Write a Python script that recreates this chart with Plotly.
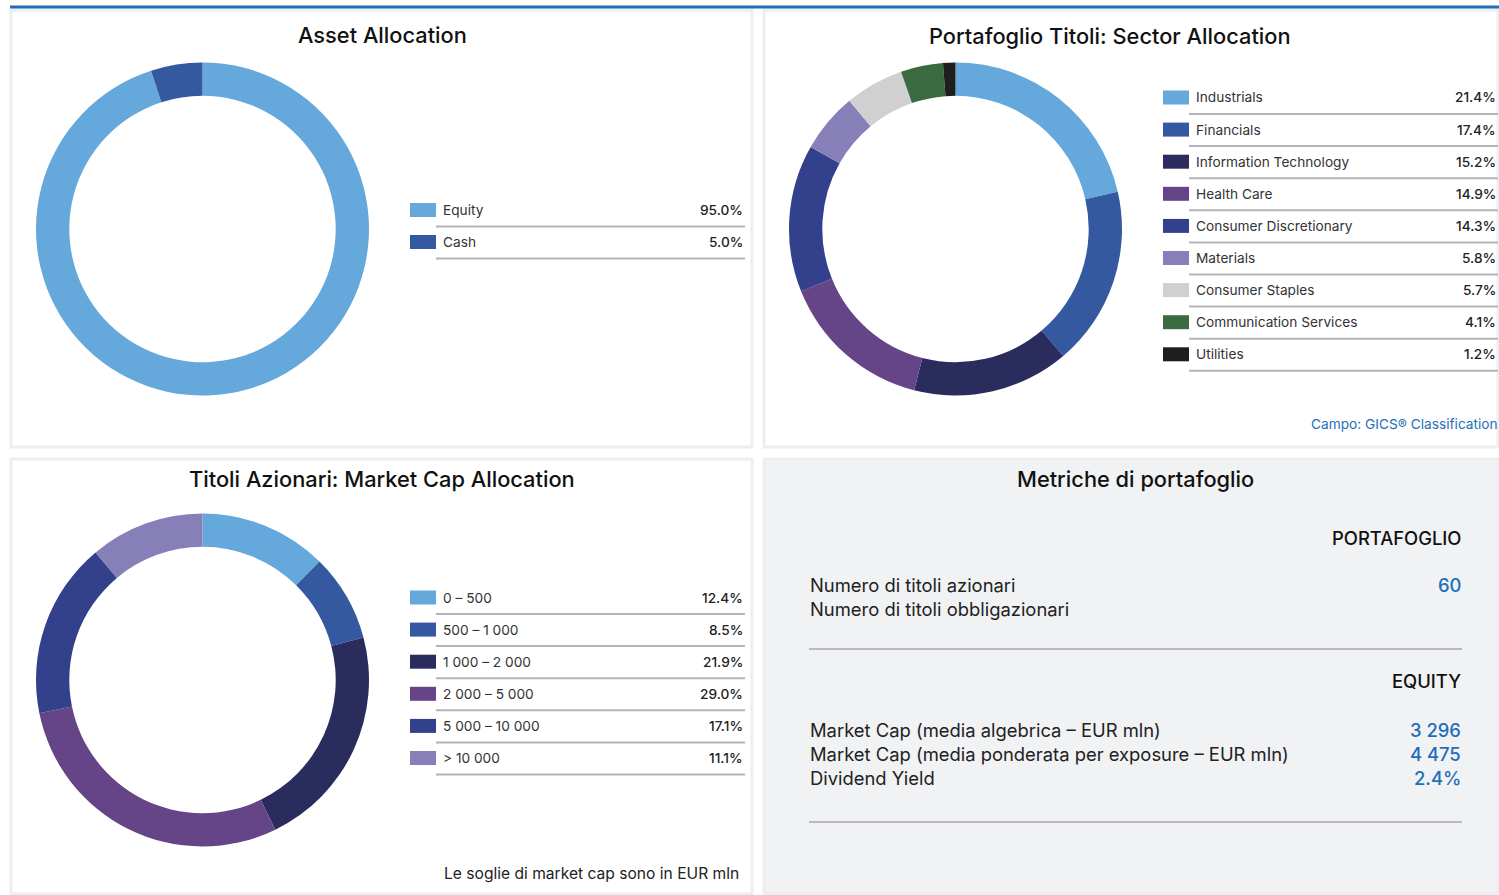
import plotly.graph_objects as go

W, H = 1499, 895

# ---------------- data ----------------
asset_labels = ["Equity", "Cash"]
asset_values = [95.0, 5.0]
asset_colors = ["#65A8DC", "#3459A0"]

sector_labels = ["Industrials", "Financials", "Information Technology", "Health Care",
                 "Consumer Discretionary", "Materials", "Consumer Staples",
                 "Communication Services", "Utilities"]
sector_values = [21.4, 17.4, 15.2, 14.9, 14.3, 5.8, 5.7, 4.1, 1.2]
sector_colors = ["#65A8DC", "#3459A0", "#2B2C5E", "#654487", "#33418C",
                 "#8780B8", "#D0D0D0", "#3A6B40", "#1E1E1E"]

mcap_labels = ["0 – 500", "500 – 1 000", "1 000 – 2 000", "2 000 – 5 000",
               "5 000 – 10 000", "> 10 000"]
mcap_values = [12.4, 8.5, 21.9, 29.0, 17.1, 11.1]
mcap_colors = ["#65A8DC", "#3459A0", "#2B2C5E", "#654487", "#33418C", "#8780B8"]

metric_labels_1 = ["Numero di titoli azionari", "Numero di titoli obbligazionari"]
metric_values_1 = ["60", ""]
metric_labels_2 = ["Market Cap (media algebrica – EUR mln)",
                   "Market Cap (media ponderata per exposure – EUR mln)",
                   "Dividend Yield"]
metric_values_2 = ["3 296", "4 475", "2.4%"]

FONT = "Inter"
BLUE = "#1F6FB8"
TXT = "#222222"


def px(x):
    return x / W


def py(y):
    return 1 - y / H


fig = go.Figure()


def donut(labels, values, colors, cx, cy, r):
    fig.add_trace(go.Pie(
        labels=labels, values=values, sort=False, direction="clockwise", rotation=0,
        hole=0.80, marker=dict(colors=colors, line=dict(width=0)),
        textinfo="none", hoverinfo="label+percent", showlegend=False,
        domain=dict(x=[px(cx - r), px(cx + r)], y=[py(cy + r), py(cy - r)]),
    ))


donut(asset_labels, asset_values, asset_colors, 202.5, 229, 166.5)
donut(sector_labels, sector_values, sector_colors, 955.5, 229, 166.5)
donut(mcap_labels, mcap_values, mcap_colors, 202.5, 680, 166.5)

shapes = []
annotations = []

# top blue line
shapes.append(dict(type="line", xref="paper", yref="paper", x0=px(10), x1=px(1499),
                   y0=py(7), y1=py(7), line=dict(color=BLUE, width=3)))

# panels
panels = [(11, 10, 752, 447, "white"), (764, 10, 1498, 447, "white"),
          (11, 459, 752, 894, "white"), (764, 459, 1498, 894, "#F1F2F4")]
for x0, y0, x1, y1, fill in panels:
    shapes.append(dict(type="rect", xref="paper", yref="paper", layer="below",
                       x0=px(x0), x1=px(x1), y0=py(y1), y1=py(y0),
                       fillcolor=fill, line=dict(color="#ECEEF1", width=3)))


def title(text, x, y):
    annotations.append(dict(text=text, x=px(x), y=py(y), xref="paper", yref="paper",
                            showarrow=False, xanchor="center", yanchor="middle",
                            font=dict(family=FONT, size=21.8, color="#111111", weight=500)))


title("Asset Allocation", 382, 35)
title("Portafoglio Titoli: Sector Allocation", 1110, 36)
title("Titoli Azionari: Market Cap Allocation", 382, 479)
title("Metriche di portafoglio", 1135, 479)

LSIZE = 13.7


def legend(labels, values, colors, sx, y0, step, line_end, val_x):
    for i, (lab, val, col) in enumerate(zip(labels, values, colors)):
        yc = y0 + i * step
        shapes.append(dict(type="rect", xref="paper", yref="paper",
                           x0=px(sx), x1=px(sx + 26), y0=py(yc + 7), y1=py(yc - 7),
                           fillcolor=col, line=dict(width=0)))
        shapes.append(dict(type="line", xref="paper", yref="paper",
                           x0=px(sx + 26), x1=px(line_end), y0=py(yc + 16.5), y1=py(yc + 16.5),
                           line=dict(color="#B4B4B8", width=2)))
        annotations.append(dict(text=lab, x=px(sx + 31), y=py(yc), xref="paper", yref="paper",
                                showarrow=False, xanchor="left", yanchor="middle",
                                font=dict(family=FONT, size=LSIZE, color="#333333")))
        annotations.append(dict(text=f"{val:.1f}%", x=px(val_x), y=py(yc), xref="paper",
                                yref="paper", showarrow=False, xanchor="right", yanchor="middle",
                                font=dict(family=FONT, size=LSIZE, color="#222222", weight=500)))


legend(asset_labels, asset_values, asset_colors, 410, 210, 32, 745, 745)
legend(sector_labels, sector_values, sector_colors, 1163, 97.5, 32.1, 1498, 1498)
legend(mcap_labels, mcap_values, mcap_colors, 410, 597.5, 32.1, 745, 745)

annotations.append(dict(text="Campo: GICS® Classification", x=px(1500), y=py(424),
                        xref="paper", yref="paper", showarrow=False, xanchor="right",
                        yanchor="middle", font=dict(family=FONT, size=13.7, color=BLUE)))
annotations.append(dict(text="Le soglie di market cap sono in EUR mln", x=px(741), y=py(873),
                        xref="paper", yref="paper", showarrow=False, xanchor="right",
                        yanchor="middle", font=dict(family=FONT, size=15.6, color=TXT)))


def text(t, x, y, anchor, color=TXT, size=18.4, weight=400):
    annotations.append(dict(text=t, x=px(x), y=py(y), xref="paper", yref="paper",
                            showarrow=False, xanchor=anchor, yanchor="middle",
                            font=dict(family=FONT, size=size, color=color, weight=weight)))


text("PORTAFOGLIO", 1463, 538, "right", color="#111111", weight=500)
for i, (lab, val) in enumerate(zip(metric_labels_1, metric_values_1)):
    yy = 585 + i * 24
    text(lab, 808, yy, "left")
    if val:
        text(val, 1463, yy, "right", color=BLUE, weight=500)
shapes.append(dict(type="line", xref="paper", yref="paper", x0=px(809), x1=px(1462),
                   y0=py(649), y1=py(649), line=dict(color="#A8A8AC", width=1.5)))
text("EQUITY", 1463, 681, "right", color="#111111", weight=500)
for i, (lab, val) in enumerate(zip(metric_labels_2, metric_values_2)):
    yy = 730 + i * 24
    text(lab, 808, yy, "left")
    text(val, 1463, yy, "right", color=BLUE, weight=500)
shapes.append(dict(type="line", xref="paper", yref="paper", x0=px(809), x1=px(1462),
                   y0=py(822), y1=py(822), line=dict(color="#A8A8AC", width=1.5)))

fig.update_layout(width=W, height=H, margin=dict(l=0, r=0, t=0, b=0),
                  paper_bgcolor="white", plot_bgcolor="white",
                  shapes=shapes, annotations=annotations,
                  font=dict(family=FONT))

fig.write_html("out.html", config={"displayModeBar": False},
               post_script="document.body.style.margin='0';document.body.style.overflow='hidden';")
